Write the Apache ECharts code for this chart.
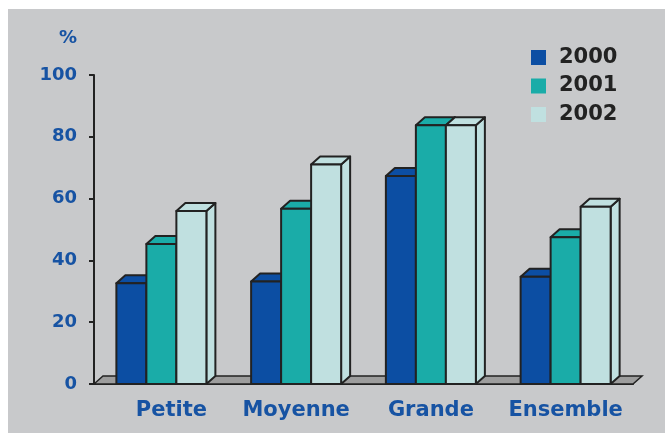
<!DOCTYPE html>
<html>
<head>
<meta charset="utf-8">
<script src="https://cdn.jsdelivr.net/npm/echarts@6/dist/echarts.min.js"></script>
<style>
html,body{margin:0;padding:0;background:#ffffff;}
#bg{position:absolute;left:8px;top:9px;width:657px;height:424px;background:#c8c9cb;}
#chart{position:absolute;left:0;top:0;width:665px;height:433px;}
</style>
</head>
<body>
<div id="bg"></div>
<div id="chart"></div>
<script>
var categories = ['Petite', 'Moyenne', 'Grande', 'Ensemble'];
var seriesNames = ['2000', '2001', '2002'];
var values2000 = [32.6, 33.2, 67.3, 34.7];
var values2001 = [45.3, 56.7, 83.7, 47.5];
var values2002 = [56, 71, 83.7, 57.4];
var yTicks = { min: 0, max: 100, interval: 20 };

var colors = ['#0c4ea3', '#1aaca8', '#c0e0e0'];
var BLUE = '#1753a3';
var FONT = '"DejaVu Sans", Verdana, sans-serif';
var DX = 9, DY = 8;
var BAR_RATIO = 30 / 134.75;

function makeRender(idx, color) {
  return function (params, api) {
    var ci = api.value(0), v = api.value(1);
    var base = api.coord([ci, 0]);
    var top = api.coord([ci, v]);
    var bw = api.size([1, 0])[0] * BAR_RATIO;
    var x0 = base[0] + (idx - 1.5) * bw;
    var x1 = x0 + bw;
    var y0 = base[1], y1 = top[1];
    var st = { fill: color, stroke: '#222222', lineWidth: 2, lineJoin: 'round' };
    return {
      type: 'group',
      children: [
        { type: 'polygon', shape: { points: [[x1, y0], [x1 + DX, y0 - DY], [x1 + DX, y1 - DY], [x1, y1]] }, style: st },
        { type: 'polygon', shape: { points: [[x0, y1], [x0 + DX, y1 - DY], [x1 + DX, y1 - DY], [x1, y1]] }, style: st },
        { type: 'rect', shape: { x: x0, y: y1, width: bw, height: y0 - y1 }, style: st }
      ]
    };
  };
}

function renderFloor(params, api) {
  var cs = params.coordSys;
  var yb = api.coord([0, 0])[1];
  var xl = cs.x, xr = cs.x + cs.width;
  return {
    type: 'polygon',
    shape: { points: [[xl, yb], [xl + DX, yb - DY], [xr + DX, yb - DY], [xr, yb]] },
    style: { fill: '#9d9d9d', stroke: '#222222', lineWidth: 1.5 }
  };
}

var allValues = [values2000, values2001, values2002];
var series = [{
  type: 'custom', name: 'floor', renderItem: renderFloor, data: [[0, 0]], z: 1, silent: true
}];
seriesNames.forEach(function (name, i) {
  series.push({
    type: 'custom',
    name: name,
    renderItem: makeRender(i, colors[i]),
    itemStyle: { color: colors[i] },
    data: allValues[i].map(function (v, ci) { return [ci, v]; }),
    encode: { x: 0, y: 1 },
    z: 2 + i
  });
});

var chart = echarts.init(document.getElementById('chart'), null, { renderer: 'canvas' });
chart.setOption({
  backgroundColor: 'transparent',
  animation: false,
  textStyle: { fontFamily: FONT },
  grid: { left: 94, right: 32, top: 75, bottom: 49 },
  legend: {
    data: seriesNames,
    orient: 'vertical',
    left: 531, top: 47,
    padding: 0,
    icon: 'rect',
    itemWidth: 15, itemHeight: 15,
    itemGap: 7.5,
    textStyle: { fontFamily: FONT, fontSize: 21, fontWeight: 'bold', color: '#222222', lineHeight: 21, padding: [0, 0, 0, 8] }
  },
  xAxis: {
    type: 'category',
    data: categories.map(function (c, i) {
      return i === 0 ? { value: c, textStyle: { padding: [0, 0, 0, 20] } } : c;
    }),
    boundaryGap: true,
    axisLine: { lineStyle: { color: '#222222', width: 2 } },
    axisTick: { length: 6, lineStyle: { color: '#222222', width: 2 } },
    axisLabel: { interval: 0, hideOverlap: false, fontFamily: FONT, fontSize: 21, fontWeight: 'bold', color: BLUE, margin: 16 },
    splitLine: { show: false }
  },
  yAxis: {
    type: 'value',
    min: yTicks.min, max: yTicks.max, interval: yTicks.interval,
    name: '%',
    nameLocation: 'end',
    nameGap: 28,
    nameTextStyle: { fontFamily: FONT, fontSize: 18, fontWeight: 'bold', color: BLUE, align: 'right', padding: [0, 17, 0, 0] },
    axisLine: { show: true, lineStyle: { color: '#222222', width: 2 } },
    axisTick: { show: true, length: 5, lineStyle: { color: '#222222', width: 2 } },
    axisLabel: { fontFamily: FONT, fontSize: 18, fontWeight: 'bold', color: BLUE, margin: 17 },
    splitLine: { show: false }
  },
  series: series
});
</script>
</body>
</html>
